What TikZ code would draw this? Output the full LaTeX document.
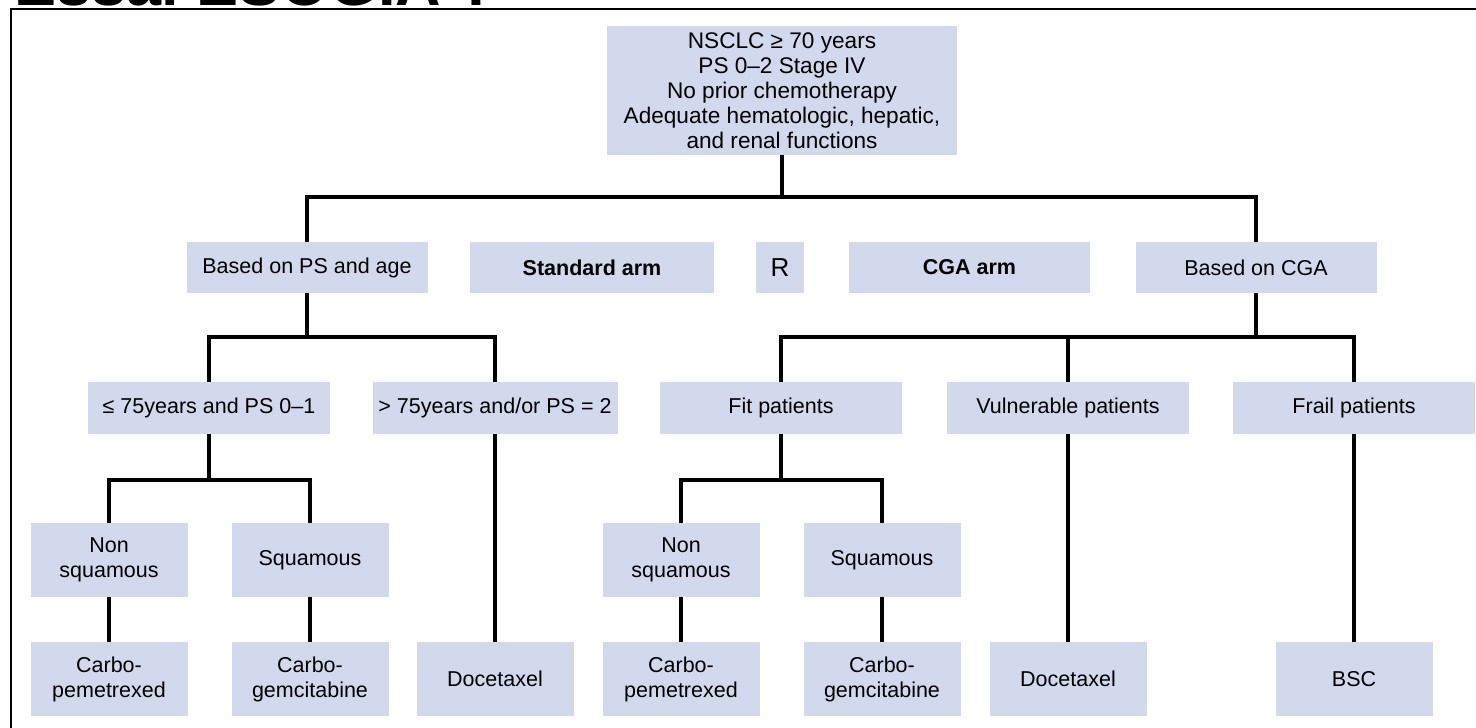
\documentclass[tikz,border=0pt]{standalone}
\usepackage{fontspec}
\setmainfont{Liberation Sans}
\definecolor{boxblue}{RGB}{211,217,237}
\tikzset{
  box/.style={fill=boxblue, draw=none, inner sep=0pt, align=center,
    font=\fontsize{21.5}{25}\selectfont, minimum height=51pt},
  wbox/.style={box, minimum width=242pt},
  sbox/.style={box, minimum width=157pt, minimum height=74pt},
  link/.style={line width=3.2pt, draw=black},
  frameline/.style={line width=2.4pt, draw=black},
}
\begin{document}
\begin{tikzpicture}[x=1pt,y=-1pt]
\useasboundingbox (0,0) rectangle (1476,728);
\fill[white] (0,0) rectangle (1476,728);
% cut-off title (only its lower edge is visible, as in the reference)
\node[anchor=base west, inner sep=0pt, font=\fontsize{63}{63}\selectfont\bfseries] (title) at (14,5.5) {Essai ESOGIA ?};
% frame
\draw[frameline] (11,740) -- (11,9) -- (1480,9);
% top box
\node[box, minimum width=350pt, minimum height=129pt, font=\fontsize{22.6}{25}\selectfont] (top) at (782,90.5)
  {NSCLC ≥ 70 years\\PS 0–2 Stage IV\\No prior chemotherapy\\Adequate hematologic, hepatic,\\and renal functions};
% row 2
\node[wbox, minimum width=241pt] (bps) at (307,267.5) {Based on PS and age};
\node[wbox, minimum width=244pt, font=\fontsize{21.5}{25}\selectfont\bfseries] (std) at (592,267.5) {Standard arm};
\node[box, minimum width=48pt, font=\fontsize{26}{26}\selectfont] (R) at (780,267.5) {R};
\node[wbox, minimum width=241pt, font=\fontsize{21.5}{25}\selectfont\bfseries] (cga) at (969.5,267.5) {CGA arm};
\node[wbox, minimum width=241pt] (bcga) at (1256,267.5) {Based on CGA};
% row 3
\node[wbox, minimum height=52pt] (le75) at (209,408) {≤ 75years and PS 0–1};
\node[wbox, minimum height=52pt, minimum width=245pt] (gt75) at (495,408) {> 75years and/or PS = 2};
\node[wbox, minimum height=52pt] (fit) at (781,408) {Fit patients};
\node[wbox, minimum height=52pt] (vul) at (1068,408) {Vulnerable patients};
\node[wbox, minimum height=52pt] (frail) at (1354,408) {Frail patients};
% row 4
\node[sbox] (ns1) at (109,560) {Non\\squamous};
\node[sbox] (sq1) at (310,560) {Squamous};
\node[sbox] (ns2) at (681,560) {Non\\squamous};
\node[sbox] (sq2) at (882,560) {Squamous};
% row 5
\node[sbox] (cp1) at (109,679) {Carbo-\\pemetrexed};
\node[sbox] (cg1) at (310,679) {Carbo-\\gemcitabine};
\node[sbox] (doc1) at (495,679) {Docetaxel};
\node[sbox] (cp2) at (681,679) {Carbo-\\pemetrexed};
\node[sbox] (cg2) at (882,679) {Carbo-\\gemcitabine};
\node[sbox] (doc2) at (1068,679) {Docetaxel};
\node[sbox] (bsc) at (1354,679) {BSC};
% junctions
\coordinate (j1) at (782,197);
\coordinate (j2) at (307,337);
\coordinate (j3) at (1256,337);
\coordinate (j4) at (209,480);
\coordinate (j5) at (781,480);
% connectors
\draw[link] (top.south) -- (j1);
\draw[link] (bps.north) |- (j1) -| (bcga.north);
\draw[link] (bps.south) -- (j2);
\draw[link] (le75.north) |- (j2) -| (gt75.north);
\draw[link] (bcga.south) -- (j3);
\draw[link] (fit.north) |- (j3) -| (frail.north);
\draw[link] (vul.north) -- (vul.north |- j3);
\draw[link] (le75.south) -- (j4);
\draw[link] (ns1.north) |- (j4) -| (sq1.north);
\draw[link] (fit.south) -- (j5);
\draw[link] (ns2.north) |- (j5) -| (sq2.north);
\draw[link] (ns1) -- (cp1);
\draw[link] (sq1) -- (cg1);
\draw[link] (ns2) -- (cp2);
\draw[link] (sq2) -- (cg2);
\draw[link] (gt75) -- (doc1);
\draw[link] (vul) -- (doc2);
\draw[link] (frail) -- (bsc);
\end{tikzpicture}
\end{document}
